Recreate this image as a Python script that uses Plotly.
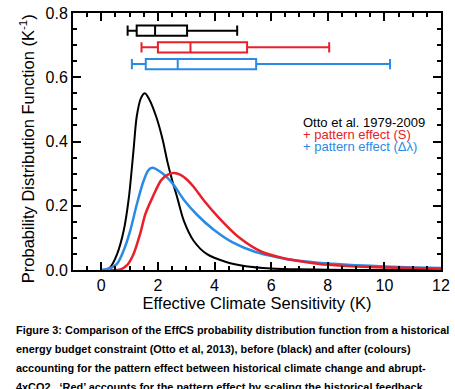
import plotly.graph_objects as go

# ---- data ----
black_x = [0.0, 0.2, 0.33, 0.56, 0.79, 0.97, 1.14, 1.25, 1.4, 1.54, 1.7, 1.94, 2.17, 2.34, 2.52, 2.69, 2.92, 3.26, 3.72, 4.41, 5.1, 6.0, 7.0, 8.0, 10.0, 12.0]
black_y = [0.0, 0.002, 0.01, 0.05, 0.122, 0.223, 0.375, 0.477, 0.535, 0.55, 0.53, 0.477, 0.405, 0.335, 0.274, 0.223, 0.152, 0.091, 0.05, 0.025, 0.012, 0.005, 0.002, 0.001, 0.0, 0.0]

blue_x = [0.0, 0.22, 0.56, 0.79, 1.02, 1.25, 1.48, 1.66, 1.8, 2.11, 2.52, 2.92, 3.38, 3.95, 4.64, 5.45, 6.25, 6.83, 8.0, 9.0, 10.0, 11.0, 12.0]
blue_y = [0.0, 0.003, 0.02, 0.061, 0.122, 0.203, 0.274, 0.31, 0.318, 0.304, 0.269, 0.218, 0.172, 0.127, 0.086, 0.056, 0.039, 0.03, 0.02, 0.015, 0.011, 0.008, 0.006]

red_x = [0.3, 0.68, 0.91, 1.14, 1.37, 1.56, 1.83, 2.11, 2.35, 2.57, 2.8, 3.03, 3.26, 3.61, 4.18, 4.87, 5.68, 6.48, 7.2, 8.0, 9.0, 10.0, 11.0, 12.0]
red_y = [0.0, 0.002, 0.015, 0.05, 0.112, 0.175, 0.23, 0.279, 0.297, 0.302, 0.296, 0.281, 0.259, 0.218, 0.16, 0.101, 0.056, 0.036, 0.025, 0.016, 0.011, 0.008, 0.006, 0.004]

# box-and-whisker summaries: [whisker low, q1, median, q3, whisker high]
box_black = [0.93, 1.25, 1.9, 3.03, 4.8]
box_red = [1.42, 2.0, 3.15, 5.15, 8.05]
box_blue = [1.08, 1.57, 2.7, 5.47, 10.2]
box_pos = [0.745, 0.693, 0.641]

legend_labels = ["Otto et al. 1979-2009", "+ pattern effect (S)", "+ pattern effect (\u0394\u03bb)"]

caption_lines = [
    "Figure 3: Comparison of the EffCS probability distribution function from a historical",
    "energy budget constraint (Otto et al, 2013), before (black) and after (colours)",
    "accounting for the pattern effect between historical climate change and abrupt-",
    "4xCO2.  \u2018Red\u2019 accounts for the pattern effect by scaling the historical feedback",
]

BLACK = "#000000"
RED = "#e8202a"
BLUE = "#2a8be6"
FONT = "Liberation Sans, Arial, sans-serif"

fig = go.Figure()

for xs, ys, col, w in [(black_x, black_y, BLACK, 2), (blue_x, blue_y, BLUE, 2.5), (red_x, red_y, RED, 2.5)]:
    fig.add_trace(go.Scatter(x=xs, y=ys, mode="lines", line=dict(color=col, width=w, shape="spline", smoothing=0.8),
                             showlegend=False, hoverinfo="skip", cliponaxis=True))

for stats, pos, col in [(box_black, box_pos[0], BLACK), (box_red, box_pos[1], RED), (box_blue, box_pos[2], BLUE)]:
    fig.add_trace(go.Box(
        y=[pos], lowerfence=[stats[0]], q1=[stats[1]], median=[stats[2]], q3=[stats[3]], upperfence=[stats[4]],
        orientation="h", width=0.032, whiskerwidth=1, line=dict(color=col, width=2),
        fillcolor="rgba(255,255,255,0)", showlegend=False, hoverinfo="skip", boxpoints=False,
    ))

legend_y = [0.458, 0.421, 0.384]
for lab, ly, col in zip(legend_labels, legend_y, [BLACK, RED, BLUE]):
    fig.add_annotation(x=7.07, y=ly, xref="x", yref="y", text=lab, showarrow=False, xanchor="left", yanchor="middle",
                       font=dict(family=FONT, size=13, color=col))

cap_shift = [-60, -79, -98, -117]
for line, ys in zip(caption_lines, cap_shift):
    fig.add_annotation(x=0, y=0, xref="paper", yref="paper", text="<b>" + line + "</b>", showarrow=False,
                       xanchor="left", yanchor="middle", xshift=-59, yshift=ys,
                       font=dict(family=FONT, size=10.9, color="#000000"))

# y-axis title placed as a rotated annotation
fig.add_annotation(x=0, y=0.47, xref="paper", yref="paper", text="Probability Distribution Function (K<sup>-1</sup>)",
                   showarrow=False, textangle=-90, xanchor="center", yanchor="middle", xshift=-46,
                   font=dict(family=FONT, size=16.5, color="black"))

axis_common = dict(showline=True, linecolor="black", linewidth=2, mirror="ticks", ticks="inside", ticklen=8,
                   tickwidth=2, tickcolor="black", showgrid=False, zeroline=False, ticklabeloverflow="allow",
                   tickfont=dict(family=FONT, size=16, color="black"))

fig.update_xaxes(range=[-1, 12], tick0=0, dtick=2, title=dict(text="Effective Climate Sensitivity (K)",
                 font=dict(family=FONT, size=16.5, color="black"), standoff=2),
                 minor=dict(dtick=0.5, ticks="inside", ticklen=4, tickwidth=2, tickcolor="black"), **axis_common)
fig.update_yaxes(range=[0, 0.8], dtick=0.2, tickformat=".1f",
                 minor=dict(dtick=0.05, ticks="inside", ticklen=4, tickwidth=2, tickcolor="black"), **axis_common)

fig.update_layout(width=455, height=389, margin=dict(l=73, r=6, t=5, b=119, pad=0),
                  paper_bgcolor="white", plot_bgcolor="white", showlegend=False, boxmode="overlay")

fig.write_html("out.html")
